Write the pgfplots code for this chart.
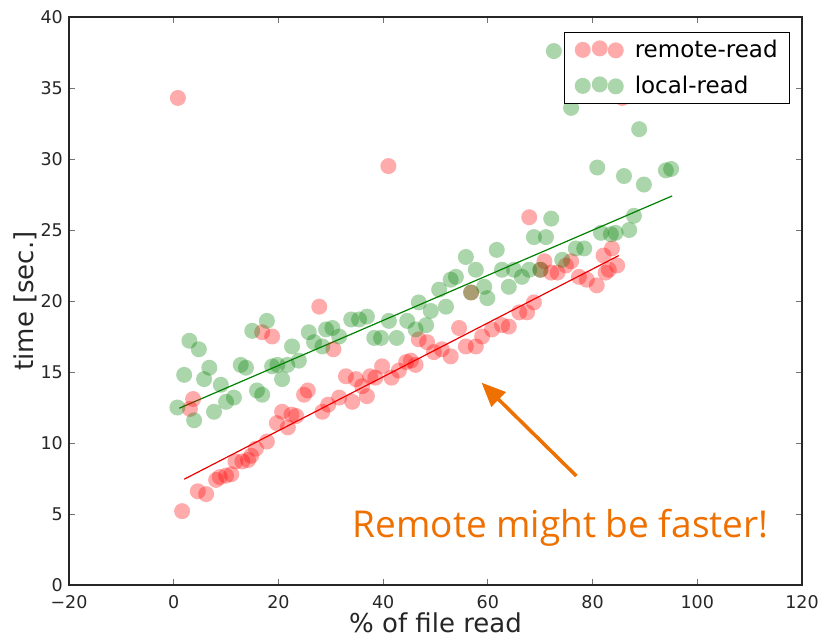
\documentclass[border=0pt]{standalone}
\usepackage{pgfplots}
\pgfplotsset{compat=1.18}
\usepackage{fontspec}
\setmainfont{DejaVu Sans}
\newfontfamily\osans{Open Sans}
\usetikzlibrary{arrows.meta}
\definecolor{annot}{RGB}{238,112,0}
\definecolor{mgreen}{RGB}{0,128,0}
\definecolor{mred}{RGB}{255,0,0}
\colorlet{lred}{mred!33!white}
\colorlet{lgreen}{mgreen!33!white}
\begin{document}
\begin{tikzpicture}
\path[use as bounding box] (-69pt,-53pt) rectangle (756pt,585pt);
\begin{axis}[
  scale only axis, width=733pt, height=568pt,
  xmin=-20, xmax=120, ymin=0, ymax=40,
  xtick={-20,0,20,40,60,80,100,120},
  xticklabels={−20,0,20,40,60,80,100,120},
  ytick={0,5,10,15,20,25,30,35,40},
  yticklabels={0,5,10,15,20,25,30,35,40},
  tick align=inside, tick pos=both,
  major tick length=6pt,
  every tick/.style={black!55, line width=0.8pt},
  axis line style={line width=1.2pt, black!85},
  ticklabel style={font=\fontsize{17.5}{20}\selectfont, text=black!85},
  xticklabel style={anchor=north, inner sep=0pt, yshift=-10pt},
  yticklabel style={anchor=east, inner sep=0pt, xshift=-6pt},
  xlabel={\% of file read}, ylabel={time [sec.]},
  every axis x label/.style={at={(axis description cs:0.5,0)}, anchor=base, yshift=-47pt, font=\fontsize{26}{30}\selectfont, text=black!85},
  every axis y label/.style={at={(axis description cs:-0.0491,0.5)}, anchor=base, rotate=90, font=\fontsize{26}{30}\selectfont, text=black!85},
  legend style={at={(axis description cs:1,1)}, anchor=north east, xshift=-12pt, yshift=-15pt, draw=black, line width=0.8pt, font=\fontsize{23}{26}\selectfont, fill=white, inner xsep=10pt, inner ysep=6pt, row sep=13pt},
  legend cell align=left,
]
\addplot[only marks, mark=*, mark size=8pt, mark options={fill=mred, draw opacity=0, fill opacity=0.33},
  legend image code/.code={
    \path[draw=none, fill=none] (-8pt,-9pt) rectangle (50pt,9pt);
    \fill[lred, draw=none] (0pt,0pt) circle (8pt);
    \fill[lred, draw=none] (33pt,-0.5pt) circle (8pt);
    \fill[lred, draw=none] (17pt,1.5pt) circle (8pt);
  }] coordinates {
(0.8,34.3) (1.6,5.2) (3.1,12.4) (3.7,13.1) (4.6,6.6) (6.2,6.4) (8.1,7.4) (8.8,7.6) (10,7.7) (11,7.8) (11.8,8.7) (13.1,8.7) (14.2,8.8) (14.8,9.1) (15.7,9.6) (16.9,17.8) (17.8,10.1) (18.8,17.5) (19.7,11.4) (20.7,12.2) (21.8,11.1) (22.5,12.0) (23.4,11.9) (24.9,13.4) (25.6,13.7) (27.8,19.6) (28.4,12.2) (29.5,12.7) (30.5,16.6) (31.6,13.2) (32.9,14.7) (34.1,12.9) (34.8,14.5) (36,14.0) (36.9,13.3) (37.5,14.7) (38.5,14.6) (39.8,15.4) (41,29.5) (41.6,14.6) (43,15.1) (44.4,15.7) (45.3,15.8) (46.2,15.5) (46.8,17.3) (48.4,17.1) (49.7,16.4) (51.2,16.6) (52.9,16.1) (54.5,18.1) (55.8,16.8) (56.8,20.6) (57.7,16.8) (58.9,17.5) (60.8,18.0) (62.7,18.3) (64,18.2) (66,19.2) (67.5,19.2) (67.9,25.9) (68.8,19.9) (70.1,22.2) (70.8,22.8) (72.1,22.0) (73.3,22.0) (74.9,22.5) (75.9,22.8) (77.4,21.7) (78.9,21.5) (80.8,21.1) (82.1,23.2) (82.5,22.0) (83.1,22.2) (83.7,23.7) (84.7,22.5) (85.7,34.3)
};
\addlegendentry{remote-read}
\addplot[only marks, mark=*, mark size=8pt, mark options={fill=mgreen, draw opacity=0, fill opacity=0.33},
  legend image code/.code={
    \path[draw=none, fill=none] (-8pt,-9pt) rectangle (50pt,9pt);
    \fill[lgreen, draw=none] (0pt,0pt) circle (8pt);
    \fill[lgreen, draw=none] (33pt,-0.5pt) circle (8pt);
    \fill[lgreen, draw=none] (17pt,1.5pt) circle (8pt);
  }] coordinates {
(0.7,12.5) (2,14.8) (3,17.2) (3.9,11.6) (4.8,16.6) (5.8,14.5) (6.8,15.3) (7.7,12.2) (9,14.1) (10,12.9) (11.5,13.2) (12.8,15.5) (13.8,15.3) (15,17.9) (15.9,13.7) (16.9,13.4) (17.8,18.6) (18.8,15.4) (19.8,15.5) (20.7,14.5) (21.7,15.5) (22.6,16.8) (23.9,15.8) (25.8,17.8) (26.8,17.1) (28.4,16.8) (29.1,18.0) (30.3,18.1) (31.6,17.5) (33.9,18.7) (35.4,18.7) (36.9,18.9) (38.3,17.4) (39.6,17.4) (41.1,18.6) (42.6,17.4) (44.6,18.6) (46.2,18.0) (46.8,19.9) (48.2,18.3) (49.1,19.3) (50.7,20.8) (52.0,19.6) (52.9,21.5) (53.9,21.7) (55.8,23.1) (56.8,20.6) (57.7,22.2) (59.3,21.0) (59.9,20.2) (61.7,23.6) (62.7,22.2) (64,21.0) (65,22.2) (66.5,21.7) (67.9,22.2) (68.8,24.5) (70,22.2) (71.1,24.5) (72.1,25.8) (72.6,37.6) (74.2,22.9) (75.9,33.6) (76.8,23.7) (78.4,23.7) (80.9,29.4) (81.6,24.8) (83.5,24.7) (84.4,24.8) (86,28.8) (87,25.0) (87.9,26.0) (88.9,32.1) (89.8,28.2) (94,29.2) (95,29.3)
};
\addlegendentry{local-read}
\addplot[forget plot, mred!92!black, line width=1.2pt] coordinates {(2,7.45) (85,23.2)};
\addplot[forget plot, mgreen, line width=1.2pt] coordinates {(1.07,12.45) (95.2,27.4)};
\node[font=\osans\fontsize{37}{42}\selectfont, text=annot, anchor=base] at (axis cs:73.9,3.38) {Remote might be faster!};
\draw[annot, line width=3.5pt, -{Triangle[length=24pt,width=20pt]}] (axis cs:76.9,7.68) -- (axis cs:58.8,14.25);
\end{axis}
\end{tikzpicture}
\end{document}
